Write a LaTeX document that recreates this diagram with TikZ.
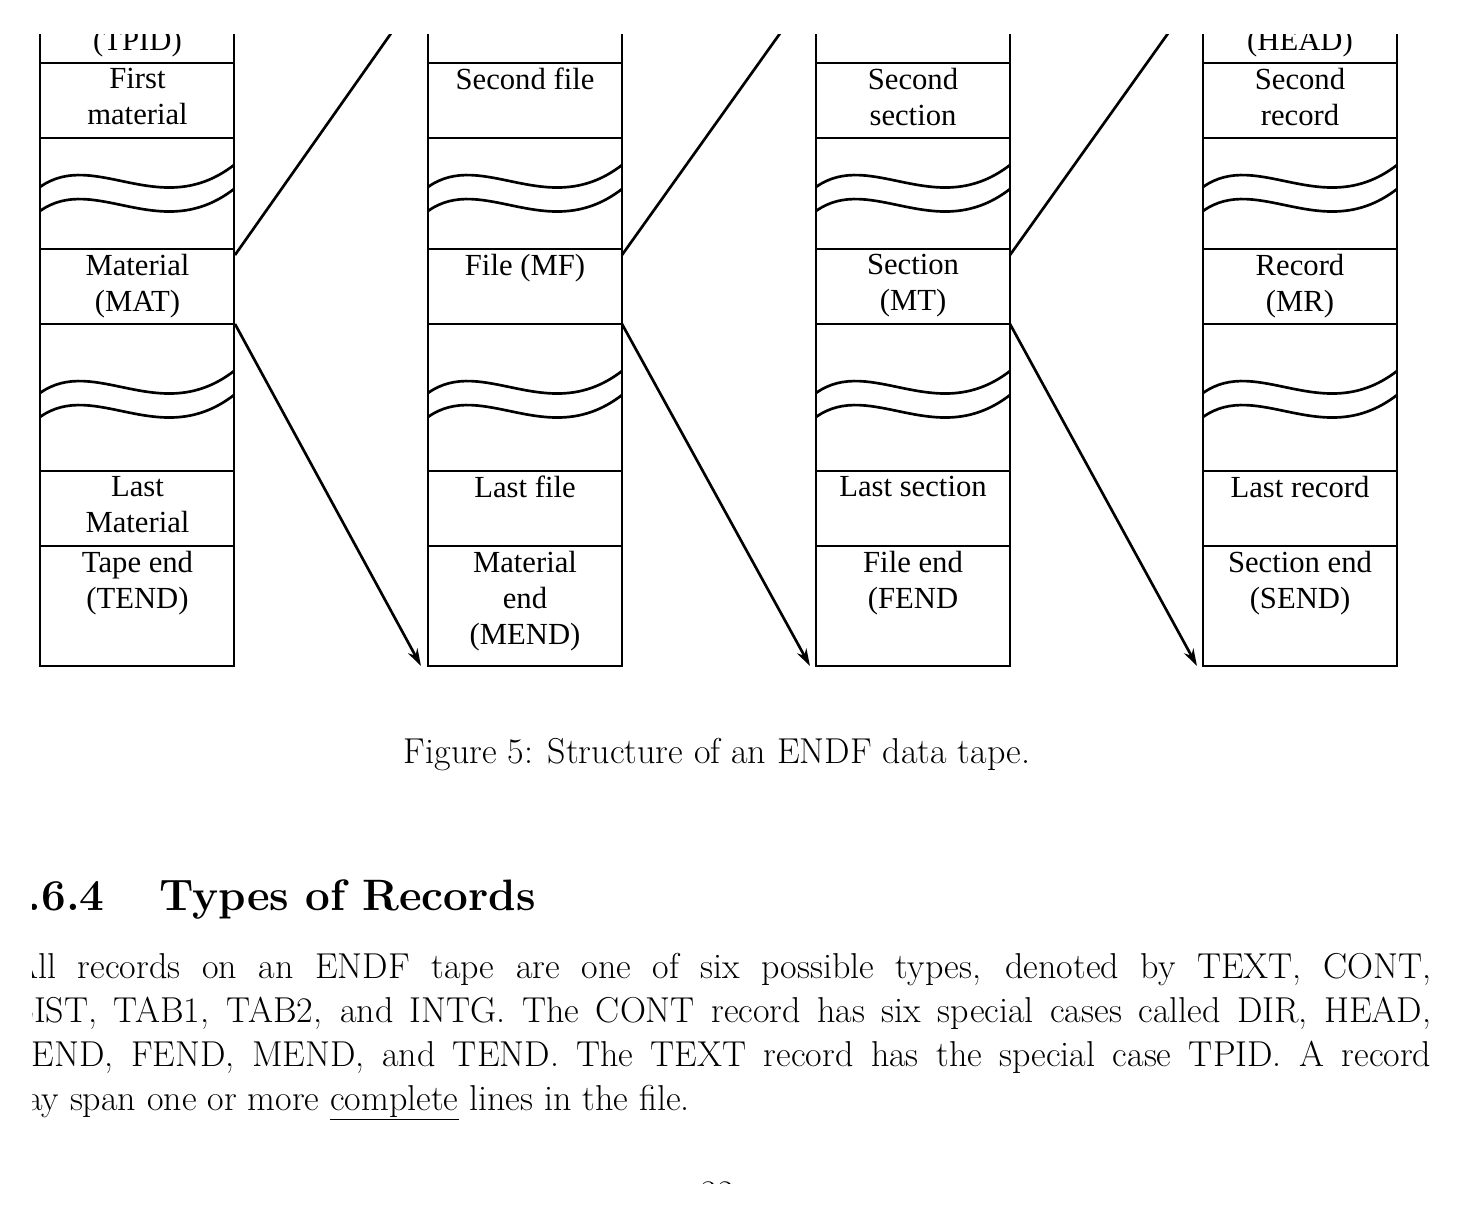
\documentclass[tikz,border=0pt]{standalone}
\usepackage{fontspec}
\newfontfamily\figfont{Liberation Serif}
\usetikzlibrary{arrows.meta}

\tikzset{every picture/.style={line width=2pt}}
\tikzset{cell/.style={anchor=north,align=center,inner sep=0.75pt,font=\figfont\fontsize{23}{27}\selectfont}}
\tikzset{body/.style={inner sep=0pt,anchor=base west,font=\fontsize{27}{33}\selectfont}}

\begin{document}
\begin{tikzpicture}[x=0.75pt,y=0.75pt,yscale=-1,xscale=1]
		\useasboundingbox (0,0) rectangle (1464,1220);
		
		\begin{scope}
		\clip (0,35) rectangle (1464,700);
		%Tape columns
		\foreach \x in {40,428,816,1203} {
			\draw (\x,20) -- (\x,666) -- (\x+194,666) -- (\x+194,20);
			\foreach \y in {63,138,249,324,471,546} \draw (\x,\y) -- (\x+194,\y);
			%Curve Lines (breaks)
			\foreach \y in {0,24} {
				\draw (\x,187+\y) .. controls (\x+55,148+\y) and (\x+120,222+\y) .. (\x+194,165+\y);
				\draw (\x,393+\y) .. controls (\x+55,354+\y) and (\x+120,428+\y) .. (\x+194,371+\y);
			}
		}
		
		%Connector end points
		\coordinate (matA) at (235,255); \coordinate (matB) at (235,324);
		\coordinate (fileA) at (622,255); \coordinate (fileB) at (622,324);
		\coordinate (secA) at (1010,255); \coordinate (secB) at (1010,324);
		\coordinate (topB) at (392,32); \coordinate (topC) at (781,32); \coordinate (topD) at (1169,32);
		\coordinate (endB) at (421,666); \coordinate (endC) at (810,666); \coordinate (endD) at (1197,666);
		
		%Straight Lines
		\draw (matA) -- (topB);
		\draw (fileA) -- (topC);
		\draw (secA) -- (topD);
		\draw [-{Stealth[length=13pt,width=8pt]}] (matB) -- (endB);
		\draw [-{Stealth[length=13pt,width=8pt]}] (fileB) -- (endC);
		\draw [-{Stealth[length=13pt,width=8pt]}] (secB) -- (endD);
		
		% Text Node
		\node [cell] (tpid) at (137.5,27) {(TPID)};
		\node [cell] (firstmat) at (137.5,66) {First\\material};
		\node [cell] (mat) at (137.5,252) {Material\\(MAT)};
		\node [cell] (lastmat) at (137.5,474) {Last\\Material};
		\node [cell] (tend) at (137.5,549) {Tape end\\(TEND)};
		% Text Node
		\node [cell] (secondfile) at (525,66) {Second file};
		\node [cell] (mf) at (525,252) {File (MF)};
		\node [cell] (lastfile) at (525,474) {Last file};
		\node [cell] (mend) at (525,549) {Material\\end\\(MEND)};
		% Text Node
		\node [cell] (secondsec) at (913,66) {Second\\section};
		\node [cell] (mt) at (913,252) {Section\\(MT)};
		\node [cell] (lastsec) at (913,474) {Last section};
		\node [cell] (fend) at (913,549) {File end\\(FEND};
		% Text Node
		\node [cell] (head) at (1300,27) {(HEAD)};
		\node [cell] (secondrec) at (1300,66) {Second\\record};
		\node [cell] (mr) at (1300,252) {Record\\(MR)};
		\node [cell] (lastrec) at (1300,474) {Last record};
		\node [cell] (send) at (1300,549) {Section end\\(SEND)};
		\end{scope}
		
		% Caption
		\node [inner sep=0pt,anchor=base,font=\fontsize{27}{33}\selectfont] (caption) at (717,763) {Figure 5: Structure of an ENDF data tape.};
		
		\begin{scope}
		\clip (32,700) rectangle (1464,1183);
		% Heading
		\node [inner sep=0pt,anchor=base east,font=\bfseries\fontsize{33}{40}\selectfont] (secnum) at (106,910) {2.6.4};
		\node [inner sep=0pt,anchor=base west,font=\bfseries\fontsize{33}{40}\selectfont] (sectitle) at (158,910) {Types of Records};
		% Body text
		\node [body] (line1) at (12,978) {\hbox to 1063.5pt{All records on an ENDF tape are one of six possible types, denoted by TEXT, CONT,}};
		\node [body] (line2) at (12,1022) {\hbox to 1063.5pt{LIST, TAB1, TAB2, and INTG. The CONT record has six special cases called DIR, HEAD,}};
		\node [body] (line3) at (12,1066) {\hbox to 1063.5pt{SEND, FEND, MEND, and TEND. The TEXT record has the special case TPID. A record}};
		\node [body] (line4) at (-3,1110) {may span one or more \underline{complete} lines in the file.};
		% Page number
		\node [inner sep=0pt,anchor=base,font=\fontsize{27}{33}\selectfont] (pagenum) at (717,1205) {32};
		\end{scope}
		
	\end{tikzpicture}
\end{document}
